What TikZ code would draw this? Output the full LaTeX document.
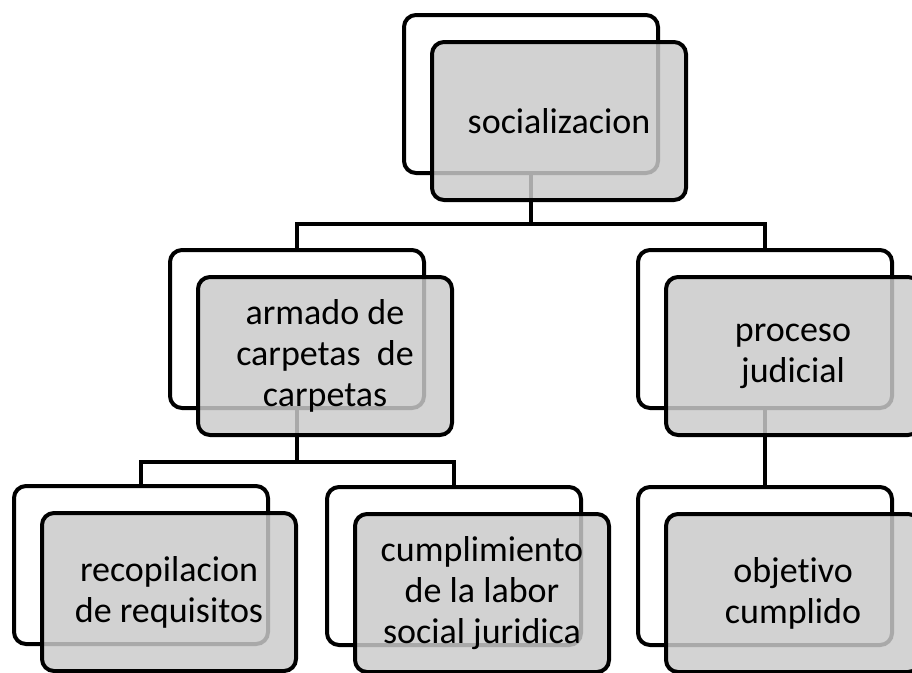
\documentclass[tikz,border=0pt]{standalone}
\usepackage{fontspec}
\setmainfont[RawFeature={-liga;-clig;-calt;-dlig}]{Carlito}
\usepackage{xcolor}
\usepackage{tikz}
\usetikzlibrary{calc}
\definecolor{boxgray}{RGB}{202,202,202}
\tikzset{
	org chart/.style={
		x=1pt, y=-1pt,
		line width=4pt,
		link/.style={draw=black, line width=4pt},
		backframe/.style={draw=black, fill=white, rounded corners=12pt,
			minimum width=254pt, minimum height=158pt, outer sep=0pt},
		frontbox/.style={draw=black, fill=boxgray, fill opacity=.84, text opacity=1,
			rounded corners=12pt, minimum width=254pt, minimum height=158pt,
			outer sep=0pt, align=center, text=black,
			font=\fontsize{36}{41}\selectfont}
		}
}

\begin{document}
\begin{tikzpicture}[org chart]
   \useasboundingbox (0,0) rectangle (912,672);
   % back frames
   \node[backframe] (socB)  at (531,94)  {};
   \node[backframe] (armB)  at (297,329) {};
   \node[backframe] (procB) at (765,329) {};
   \node[backframe] (recB)  at (141,565) {};
   \node[backframe] (cumpB) at (454,566) {};
   \node[backframe] (objB)  at (765,566) {};
   % connectors
   \coordinate (j1) at (531,224);
   \coordinate (j2) at (297,462);
   \draw[link] (socB.south) -- (j1);
   \draw[link] (armB.north) |- (j1);
   \draw[link] (procB.north) |- (j1);
   \draw[link] (armB.south) -- (j2);
   \draw[link] (recB.north) |- (j2);
   \draw[link] (cumpB.north) |- (j2);
   \draw[link] (procB.south) -- (objB.north);
   % front boxes
   \node[frontbox] (soc)  at ($(socB)+(28,27)$)  {socializacion};
   \node[frontbox] (arm)  at ($(armB)+(28,27)$)  {armado de\\carpetas\ \ de\\carpetas};
   \node[frontbox] (proc) at ($(procB)+(28,27)$) {proceso\\judicial};
   \node[frontbox] (rec)  at ($(recB)+(28,27)$)  {recopilacion\\de requisitos};
   \node[frontbox] (cump) at ($(cumpB)+(28,27)$) {cumplimiento\\de la labor\\social juridica};
   \node[frontbox] (obj)  at ($(objB)+(28,27)$)  {objetivo\\cumplido};
\end{tikzpicture}
\end{document}
